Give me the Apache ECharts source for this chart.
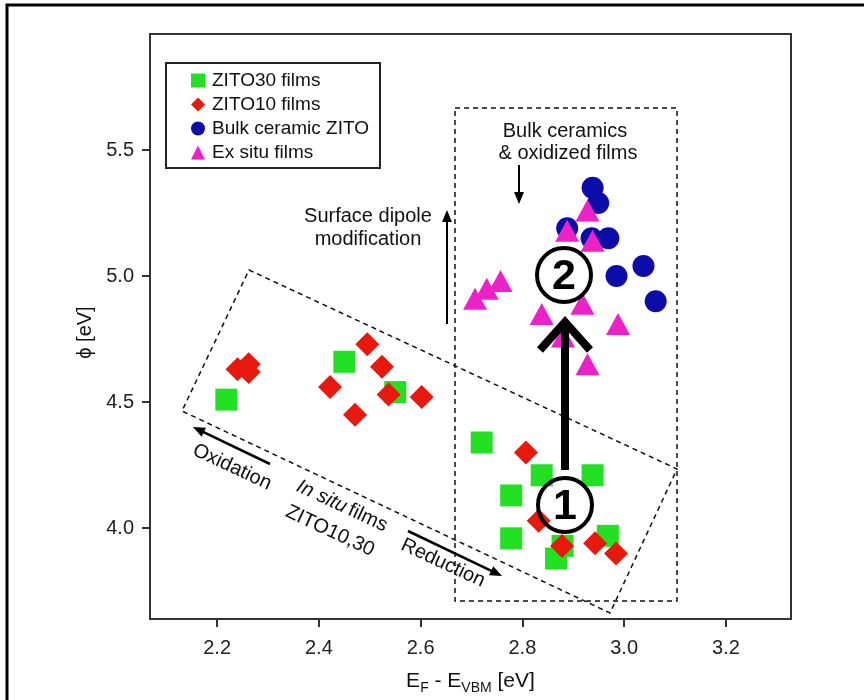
<!DOCTYPE html>
<html>
<head>
<meta charset="utf-8">
<script src="https://cdn.jsdelivr.net/npm/echarts@6/dist/echarts.min.js"></script>
<style>
html,body{margin:0;padding:0;background:#fff;}
#chart{width:864px;height:700px;}
</style>
</head>
<body>
<div id="chart"></div>
<script>
// ---- data ----
const xTicks = [2.2, 2.4, 2.6, 2.8, 3.0, 3.2];
const yTicks = [4.0, 4.5, 5.0, 5.5];

const zito30X = [2.218, 2.450, 2.550, 2.720, 2.838, 2.938, 2.778, 2.778, 2.879, 2.866, 2.968];
const zito30Y = [4.51, 4.66, 4.54, 4.34, 4.21, 4.21, 4.13, 3.96, 3.93, 3.88, 3.97];

const zito10X = [2.240, 2.262, 2.262, 2.495, 2.524, 2.422, 2.537, 2.602, 2.471, 2.807, 2.832, 2.878, 2.943, 2.984];
const zito10Y = [4.63, 4.65, 4.62, 4.73, 4.64, 4.56, 4.53, 4.52, 4.45, 4.30, 4.03, 3.93, 3.94, 3.90];

const bulkX = [2.938, 2.949, 2.888, 2.936, 2.969, 3.038, 2.985, 3.062];
const bulkY = [5.35, 5.29, 5.19, 5.15, 5.15, 5.04, 5.00, 4.90];

const exsituX = [2.928, 2.888, 2.938, 2.757, 2.730, 2.707, 2.838, 2.918, 2.988, 2.928, 2.880];
const exsituY = [5.26, 5.18, 5.14, 4.98, 4.95, 4.91, 4.85, 4.89, 4.81, 4.65, 4.76];

const seriesNames = ['ZITO30 films', 'ZITO10 films', 'Bulk ceramic ZITO', 'Ex situ films'];

function pairs(xs, ys) { return xs.map((x, i) => [x, ys[i]]); }

const FONT = 'Liberation Sans, Arial, Helvetica, sans-serif';
const TS = 20;
const chart = echarts.init(document.getElementById('chart'), null, {renderer: 'canvas'});

const deg = Math.PI / 180;
const tilt = -25 * deg;

function arrowHead(tipX, tipY, angle, len, half) {
  const bx = tipX - len * Math.cos(angle), by = tipY - len * Math.sin(angle);
  const px = -Math.sin(angle) * half, py = Math.cos(angle) * half;
  return {type: 'polygon', shape: {points: [[tipX, tipY], [bx + px, by + py], [bx - px, by - py]]}, style: {fill: '#000'}, z: 20};
}
function arrow(x1, y1, x2, y2, w) {
  const a = Math.atan2(y2 - y1, x2 - x1);
  const len = 12;
  return [
    {type: 'line', shape: {x1: x1, y1: y1, x2: x2 - (len - 2) * Math.cos(a), y2: y2 - (len - 2) * Math.sin(a)}, style: {stroke: '#000', lineWidth: w}, z: 20},
    arrowHead(x2, y2, a, len, 5)
  ];
}
function txt(x, y, text, size) {
  return {type: 'text', x: x, y: y, z: 30,
    style: {text: text, fontSize: size, fontFamily: FONT, fill: '#111', align: 'center', verticalAlign: 'middle'}};
}
function rtxt(x, y, text, size) {
  return {type: 'text', x: x, y: y, rotation: tilt, z: 30,
    style: {text: text, fontSize: size, fontFamily: FONT, fill: '#111', align: 'center', verticalAlign: 'middle'}};
}

const graphics = [
  // outer frame
  {type: 'rect', shape: {x: 7, y: 5, width: 950, height: 850}, style: {fill: 'none', stroke: '#000', lineWidth: 3}, z: 1, silent: true},
  // legend frame
  {type: 'rect', shape: {x: 166, y: 63, width: 214, height: 105}, style: {fill: 'none', stroke: '#222', lineWidth: 2}, z: 5},
  // vertical dashed box
  {type: 'rect', shape: {x: 455, y: 108, width: 222, height: 493}, style: {fill: 'none', stroke: '#111', lineWidth: 1.5, lineDash: [5, 4]}, z: 5},
  // tilted dashed box
  {type: 'polygon', shape: {points: [[249, 270], [677, 469], [610, 613], [182, 411]]}, style: {fill: 'none', stroke: '#111', lineWidth: 1.5, lineDash: [5, 4]}, z: 5},
  // text labels
  txt(368, 216, 'Surface dipole', TS),
  txt(368, 239, 'modification', TS),
  txt(565, 131, 'Bulk ceramics', TS),
  txt(568, 153, '& oxidized films', TS),
  rtxt(232, 467, 'Oxidation', TS),
  {type: 'text', x: 342, y: 506, rotation: tilt, z: 30,
    style: {text: '{i|In situ} {n|films}', align: 'center', verticalAlign: 'middle',
      rich: {i: {fontSize: TS, fontFamily: FONT, fontStyle: 'italic', fill: '#111'}, n: {fontSize: TS, fontFamily: FONT, fill: '#111'}}}},
  rtxt(330, 531, 'ZITO10,30', TS),
  rtxt(443, 563, 'Reduction', TS),
  // big arrow 1 -> 2
  {type: 'line', shape: {x1: 565, y1: 470, x2: 565, y2: 326}, style: {stroke: '#000', lineWidth: 8}, z: 25},
  {type: 'polyline', shape: {points: [[540, 350], [565, 322], [590, 350]]}, style: {stroke: '#000', lineWidth: 8, lineJoin: 'miter', fill: 'none'}, z: 25},
  // circled numbers
  {type: 'circle', shape: {cx: 565, cy: 505, r: 27}, style: {fill: 'none', stroke: '#000', lineWidth: 4}, z: 25},
  {type: 'text', x: 565, y: 507, z: 26, style: {text: '1', fontSize: 43, fontWeight: 'bold', fontFamily: FONT, fill: '#000', align: 'center', verticalAlign: 'middle'}},
  {type: 'circle', shape: {cx: 564, cy: 275, r: 27}, style: {fill: 'none', stroke: '#000', lineWidth: 4}, z: 25},
  {type: 'text', x: 564, y: 277, z: 26, style: {text: '2', fontSize: 43, fontWeight: 'bold', fontFamily: FONT, fill: '#000', align: 'center', verticalAlign: 'middle'}}
]
.concat(arrow(447, 324, 447, 210, 2))
.concat(arrow(519, 165, 519, 204, 2))
.concat(arrow(270, 464, 193, 427, 2.5))
.concat(arrow(408, 531, 502, 576, 2.5));

const option = {
  backgroundColor: '#fff',
  animation: false,
  grid: {left: 150, top: 34, width: 641, height: 585, show: true, borderColor: '#333', borderWidth: 2, backgroundColor: 'transparent'},
  legend: {
    orient: 'vertical', left: 186, top: 66, itemWidth: 14, itemHeight: 14, itemGap: 5,
    selectedMode: false,
    data: seriesNames,
    textStyle: {fontSize: 19, fontFamily: FONT, color: '#111', padding: [0, 0, 0, 2]}
  },
  xAxis: {
    type: 'value', min: 2.068, max: 3.328,
    splitLine: {show: false},
    axisLine: {show: true, lineStyle: {color: '#333', width: 2}},
    axisTick: {show: true, inside: false, length: 8, lineStyle: {color: '#333', width: 2}, customValues: xTicks},
    axisLabel: {customValues: xTicks, fontSize: 20, fontFamily: FONT, color: '#222', margin: 19, formatter: v => v.toFixed(1)},
    name: '{a|E}{s|F}{a| - E}{s|VBM}{a| [eV]}',
    nameLocation: 'middle', nameGap: 49,
    nameTextStyle: {
      rich: {
        a: {fontSize: 21, fontFamily: FONT, color: '#111', lineHeight: 27, verticalAlign: 'middle'},
        s: {fontSize: 14, fontFamily: FONT, color: '#111', lineHeight: 14, verticalAlign: 'bottom'}
      }
    }
  },
  yAxis: {
    type: 'value', min: 3.64, max: 5.96,
    splitLine: {show: false},
    axisLine: {show: true, lineStyle: {color: '#333', width: 2}},
    axisTick: {show: true, inside: false, length: 8, lineStyle: {color: '#333', width: 2}, customValues: yTicks},
    axisLabel: {customValues: yTicks, fontSize: 20, fontFamily: FONT, color: '#222', margin: 16, formatter: v => v.toFixed(1)},
    name: 'ϕ [eV]', nameLocation: 'middle', nameGap: 54, nameRotate: 90,
    nameTextStyle: {fontSize: 20, fontFamily: FONT, color: '#111', padding: [0, 12, 0, 0]}
  },
  series: [
    {name: seriesNames[0], type: 'scatter', symbol: 'rect', symbolSize: 22, itemStyle: {color: '#22e022', opacity: 1}, data: pairs(zito30X, zito30Y), z: 2},
    {name: seriesNames[1], type: 'scatter', symbol: 'diamond', symbolSize: 24, itemStyle: {color: '#e8180c', opacity: 1}, data: pairs(zito10X, zito10Y), z: 3},
    {name: seriesNames[2], type: 'scatter', symbol: 'circle', symbolSize: 22, itemStyle: {color: '#0c0ca8', opacity: 1}, data: pairs(bulkX, bulkY), z: 4},
    {name: seriesNames[3], type: 'scatter', symbol: 'triangle', symbolSize: [24, 22], itemStyle: {color: '#ec22c8', opacity: 1}, data: pairs(exsituX, exsituY), z: 5}
  ],
  graphic: graphics
};
chart.setOption(option);
</script>
</body>
</html>
